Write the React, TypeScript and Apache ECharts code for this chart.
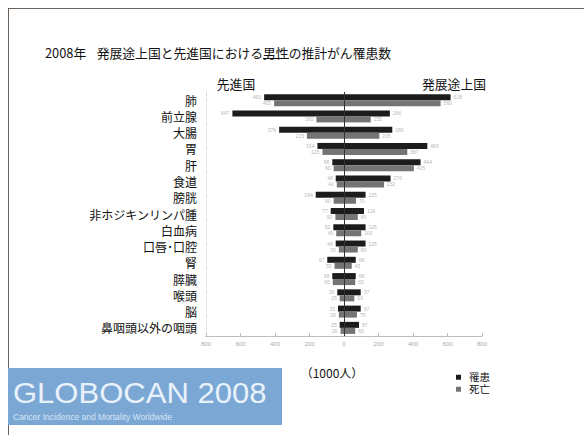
import React, { useEffect, useRef } from "react";
import * as echarts from "echarts";

const categories = [
  "肺",
  "前立腺",
  "大腸",
  "胃",
  "肝",
  "食道",
  "膀胱",
  "非ホジキンリンパ腫",
  "白血病",
  "口唇･口腔",
  "腎",
  "膵臓",
  "喉頭",
  "脳",
  "鼻咽頭以外の咽頭",
];
// thousands of men, 2008
const developedIncidence = [463, 647, 376, 154, 68, 48, 164, 77, 62, 48, 97, 68, 39, 35, 25];
const developingIncidence = [618, 266, 280, 483, 444, 270, 125, 116, 125, 125, 68, 68, 97, 97, 87];
const developedDeaths = [405, 160, 215, 125, 60, 42, 60, 50, 45, 30, 55, 65, 25, 30, 20];
const developingDeaths = [560, 155, 205, 367, 405, 232, 70, 80, 100, 80, 45, 65, 60, 75, 65];
const legendNames = ["罹患", "死亡"];

const FONT = '"Noto Sans CJK JP", "Noto Sans", sans-serif';

export default function App() {
  const ref = useRef<HTMLDivElement>(null);
  useEffect(() => {
    if (!ref.current) return;
    const chart = echarts.init(ref.current, null, { renderer: "svg" });
    const endLabel = (pos: string) => ({
      show: true,
      position: pos,
      distance: 3,
      fontSize: 5,
      color: "#b8b8b8",
      fontFamily: "Liberation Sans",
      formatter: (p: any) => String(Math.abs(p.value)),
    });
    const incColor = "#1c1c1c";
    const deathColor = "#747474";
    const legendBase = {
      orient: "vertical",
      left: 456,
      padding: 0,
      icon: "rect",
      itemWidth: 5,
      itemHeight: 5,
      textStyle: {
        fontSize: 10.5,
        color: "#111",
        padding: [0, 0, 0, 3],
        fontFamily: '"Liberation Sans", "Noto Sans CJK JP", sans-serif',
      },
    };
    chart.setOption({
      animation: false,
      backgroundColor: "#ffffff",
      textStyle: { fontFamily: FONT },
      grid: { left: 206, right: 102, top: 92, bottom: 99, containLabel: false },
      legend: [
        { ...legendBase, data: [legendNames[0]], top: 372 },
        { ...legendBase, data: [legendNames[1]], top: 384 },
      ],
      xAxis: {
        type: "value",
        min: -800,
        max: 800,
        interval: 200,
        splitLine: { show: false },
        axisLine: { show: true, lineStyle: { color: "#bdbdbd", width: 1 } },
        axisTick: { show: true, inside: true, length: 3, lineStyle: { color: "#bdbdbd" } },
        axisLabel: {
          fontSize: 6,
          color: "#a8a8a8",
          margin: 5,
          fontFamily: "Liberation Sans",
          formatter: (v: number) => String(Math.abs(v)),
        },
      },
      yAxis: {
        type: "category",
        data: categories,
        inverse: true,
        axisLine: { show: true, onZero: false, lineStyle: { color: "#dddddd", type: "dashed" } },
        axisTick: { show: false },
        axisLabel: { fontSize: 12, color: "#111", margin: 9, fontFamily: FONT },
        splitLine: { show: false },
      },
      series: [
        {
          name: "罹患",
          type: "bar",
          stack: "inc",
          barWidth: 6,
          barGap: "0%",
          itemStyle: { color: incColor },
          label: endLabel("left"),
          data: developedIncidence.map((v) => -v),
          markLine: {
            silent: true,
            symbol: "none",
            label: { show: false },
            lineStyle: { color: "#333", width: 1, type: "solid" },
            data: [{ xAxis: 0 }],
          },
        },
        {
          name: "罹患",
          type: "bar",
          stack: "inc",
          barWidth: 6,
          barGap: "0%",
          itemStyle: { color: incColor },
          label: endLabel("right"),
          data: developingIncidence,
        },
        {
          name: "死亡",
          type: "bar",
          stack: "mort",
          barWidth: 6,
          barGap: "0%",
          itemStyle: { color: deathColor },
          label: endLabel("left"),
          data: developedDeaths.map((v) => -v),
        },
        {
          name: "死亡",
          type: "bar",
          stack: "mort",
          barWidth: 6,
          barGap: "0%",
          itemStyle: { color: deathColor },
          label: endLabel("right"),
          data: developingDeaths,
        },
      ],
      graphic: [
        { type: "line", shape: { x1: 8, y1: 8.5, x2: 584, y2: 8.5 }, style: { stroke: "#6d635a", lineWidth: 1 } },
        { type: "line", shape: { x1: 8.5, y1: 8, x2: 8.5, y2: 435 }, style: { stroke: "#6d635a", lineWidth: 1 } },
        {
          type: "text",
          x: 45,
          y: 52,
          style: { text: "2008年", fontSize: 12.8, fontFamily: FONT, fill: "#111", verticalAlign: "middle" },
        },
        {
          type: "text",
          x: 96.7,
          y: 52,
          style: {
            text: "発展途上国と先進国における男性の推計がん罹患数",
            fontSize: 12.8,
            fontFamily: FONT,
            fill: "#111",
            verticalAlign: "middle",
          },
        },
        { type: "line", shape: { x1: 263, y1: 58.5, x2: 289, y2: 58.5 }, style: { stroke: "#111", lineWidth: 1 } },
        {
          type: "text",
          x: 236,
          y: 83,
          style: { text: "先進国", fontSize: 12.8, fontFamily: FONT, fill: "#111", align: "center", verticalAlign: "middle" },
        },
        {
          type: "text",
          x: 454,
          y: 83,
          style: { text: "発展途上国", fontSize: 12.8, fontFamily: FONT, fill: "#111", align: "center", verticalAlign: "middle" },
        },
        {
          type: "text",
          x: 332,
          y: 372,
          style: { text: "（1000人）", fontSize: 12, fontFamily: FONT, fill: "#111", align: "center", verticalAlign: "middle" },
        },
        { type: "rect", shape: { x: 8, y: 368, width: 274, height: 57 }, style: { fill: "#7ba7d5" } },
        {
          type: "text",
          x: 13,
          y: 392.5,
          scaleX: 1.07,
          style: {
            text: "GLOBOCAN 2008",
            fontSize: 29,
            fontFamily: "Liberation Sans",
            fill: "#e9f2fb",
            verticalAlign: "middle",
            shadowColor: "rgba(255,255,255,0.6)",
            shadowBlur: 2,
          },
        },
        {
          type: "text",
          x: 13,
          y: 417,
          style: {
            text: "Cancer Incidence and Mortality Worldwide",
            fontSize: 8.5,
            fontFamily: "Liberation Sans",
            fill: "#d6e5f4",
            verticalAlign: "middle",
          },
        },
      ],
    });
    return () => chart.dispose();
  }, []);
  return (
    <div
      ref={ref}
      style={{ position: "fixed", left: 0, top: 0, width: 584, height: 435, background: "#fff" }}
    />
  );
}
